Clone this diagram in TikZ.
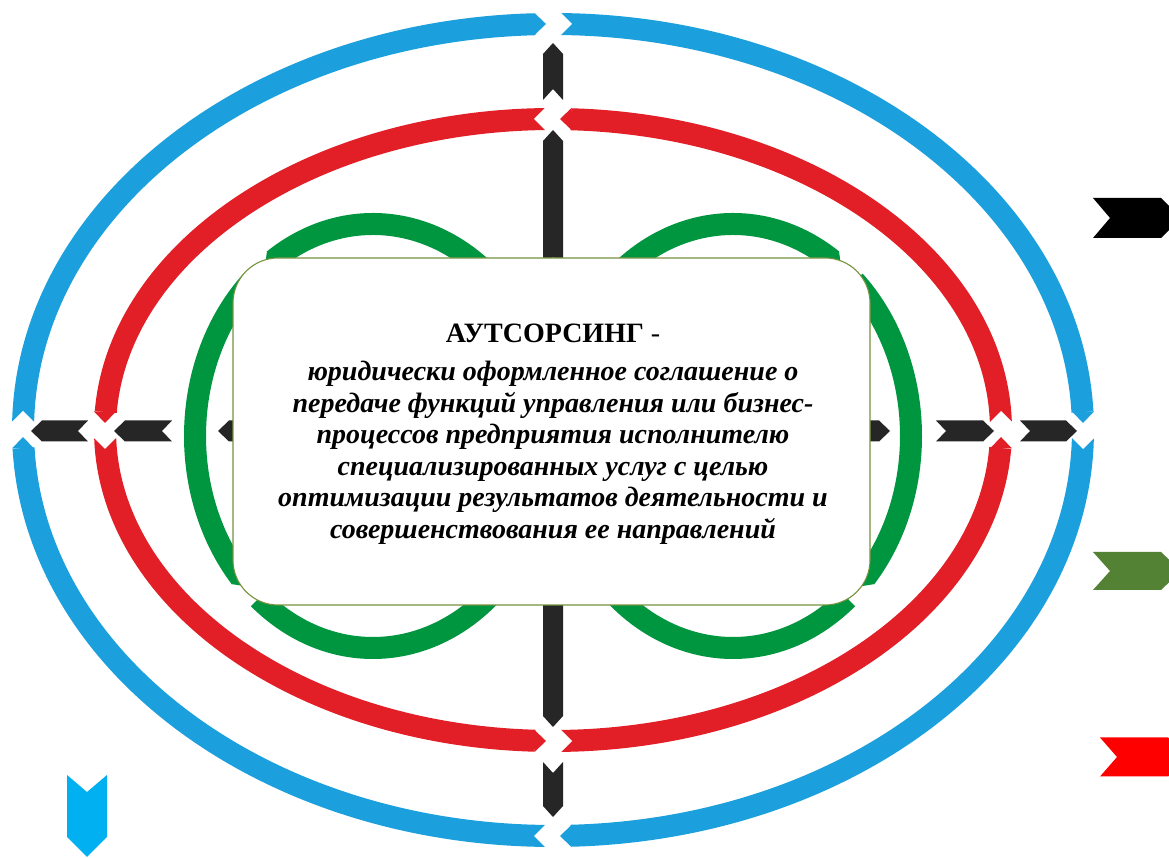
\documentclass[tikz,border=0pt]{standalone}
\usepackage{fontspec}
\setmainfont{Liberation Serif}

\definecolor{ringblue}{RGB}{27,160,221}
\definecolor{ringred}{RGB}{226,30,38}
\definecolor{ringgreen}{RGB}{0,150,64}
\definecolor{arrowdark}{RGB}{38,38,38}
\definecolor{boxline}{RGB}{118,146,60}
\definecolor{keyblack}{RGB}{0,0,0}
\definecolor{keygreen}{RGB}{84,130,53}
\definecolor{keyred}{RGB}{255,0,0}
\definecolor{keyblue}{RGB}{0,176,240}

% chevron: fill, tail x, tail y, direction, length, half width, tip length, notch depth
\newcommand\mychev[8]{%
  \fill[#1, shift={(#2,#3)}, rotate=#4]
    (0,#6) -- ({#5-#7},#6) -- (#5,0) -- ({#5-#7},-#6) -- (0,-#6) -- (#8,0) -- cycle;
}

% elliptic ring of four chevron arcs around (553,428):
% colour, x radius, y radius, sense (1 = counter-clockwise, -1 = clockwise)
\newcommand\flowring[4]{%
  \foreach \G in {0,90,180,270}{
    \pgfmathsetmacro\Gn{\G+90*#4}
    \pgfmathsetmacro\rs{ifthenelse(mod(\G,180)==0,#3,#2)}
    \pgfmathsetmacro\re{ifthenelse(mod(abs(\Gn),180)==0,#3,#2)}
    \pgfmathsetmacro\ts{\G+#4*8/\rs*57.29578}
    \pgfmathsetmacro\te{\Gn-#4*18/\re*57.29578}
    \draw[#1, ringband] (553,428) ++(\ts:#2 and #3)
      arc[start angle=\ts, end angle=\te, x radius=#2, y radius=#3];
    \pgfmathsetmacro\px{553+#2*cos(\G)}
    \pgfmathsetmacro\py{428+#3*sin(\G)}
    \pgfmathsetmacro\rot{\G+90*#4}
    \fill[#1, shift={(\px,\py)}, rotate=\rot] (-18.5,11) -- (-7,0) -- (-18.5,-11) -- cycle;
    \fill[white, shift={(\px,\py)}, rotate=\rot] (6.5,12.5) -- (19,0) -- (6.5,-12.5) -- cycle;
  }
}

% green arc piece with a pointed end: centre x, centre y, start angle, end angle
\newcommand\greenpiece[4]{%
  \draw[greenband] (#1,#2) ++(#3:178 and 212)
    arc[start angle=#3, end angle=#4, x radius=178, y radius=212];
  \pgfmathsetmacro\sg{ifthenelse(#4>#3,1,-1)}
  \pgfmathsetmacro\tx{-178*sin(#4)*\sg}
  \pgfmathsetmacro\ty{212*cos(#4)*\sg}
  \pgfmathsetmacro\ang{atan2(\ty,\tx)}
  \pgfmathsetmacro\qx{#1+178*cos(#4)}
  \pgfmathsetmacro\qy{#2+212*sin(#4)}
  \fill[ringgreen, shift={(\qx,\qy)}, rotate=\ang] (-0.5,11) -- (11,0) -- (-0.5,-11) -- cycle;
}

\begin{document}
\begin{tikzpicture}[x=1pt, y=1pt,
  ringband/.style={line width=22pt, line cap=butt},
  greenband/.style={ringgreen, line width=22pt, line cap=butt},
  defbox/.style={draw=boxline, line width=1.1pt, fill=white, rounded corners=45pt,
    minimum width=637pt, minimum height=347pt, inner sep=0pt},
  deftext/.style={inner sep=0pt, align=center, font=\fontsize{28}{31.6}\selectfont}]
\useasboundingbox (0,0) rectangle (1169,858);
\clip (0,0) rectangle (1169,858);
\fill[white] (0,0) rectangle (1169,858);

% outer rings
\flowring{ringblue}{530}{406}{-1}
\flowring{ringred}{448}{311}{1}

% green rings
\greenpiece{373}{422}{40}{124}
\greenpiece{373}{422}{133}{222}
\greenpiece{373}{422}{230}{320}
\greenpiece{733}{422}{140}{56}
\greenpiece{733}{422}{47}{-42}
\greenpiece{733}{422}{310}{220}

% axis arrows
\mychev{arrowdark}{88}{427}{180}{57}{10.5}{11}{10}
\mychev{arrowdark}{172}{427}{180}{58}{10.5}{11}{10}
\mychev{arrowdark}{280}{427}{180}{62}{10.5}{11}{10}
\mychev{arrowdark}{830}{427}{0}{60}{10.5}{11}{10}
\mychev{arrowdark}{936}{427}{0}{58}{10.5}{11}{10}
\mychev{arrowdark}{1020}{427}{0}{57}{10.5}{11}{10}
\mychev{arrowdark}{553}{758}{90}{57}{10}{11}{11}
\mychev{arrowdark}{553}{590}{90}{138}{10}{11}{11}
\mychev{arrowdark}{553}{264}{-90}{133}{10}{11}{11}
\mychev{arrowdark}{553}{96}{-90}{55}{10}{11}{11}

% key chevrons
\mychev{keyblack}{1093}{640}{0}{88}{20}{20}{17}
\mychev{keygreen}{1093}{287}{0}{88}{19}{20}{17}
\mychev{keyred}{1100}{101}{0}{88}{19.5}{20}{17}
\mychev{keyblue}{87}{83}{-90}{82}{20}{20}{17}

% definition box
\node[defbox] (def) at (551.5,426.5) {};
\node[deftext] (deftxt) at ([xshift=1.5pt, yshift=-3pt]def.center) {%
  \textbf{АУТСОРСИНГ} -\\[6pt]
  \textbf{\textit{юридически оформленное соглашение о}}\\
  \textbf{\textit{передаче функций управления или бизнес-}}\\
  \textbf{\textit{процессов предприятия исполнителю}}\\
  \textbf{\textit{специализированных услуг с целью}}\\
  \textbf{\textit{оптимизации результатов деятельности и}}\\
  \textbf{\textit{совершенствования ее направлений}}};
\end{tikzpicture}
\end{document}
